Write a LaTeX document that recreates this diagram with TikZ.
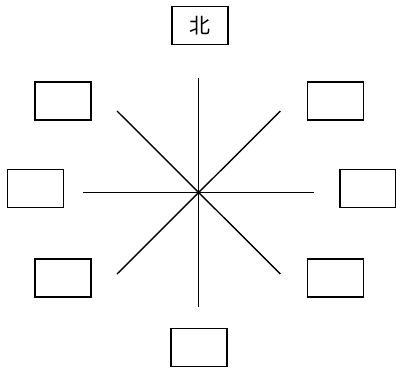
\documentclass[tikz,border=0pt]{standalone}
\usepackage{fontspec}
\newfontfamily\cjk{Noto Sans CJK SC}
\begin{document}
\begin{tikzpicture}[x=1pt,y=-1pt,
  dirbox/.style={draw=black,line width=1.6pt,minimum width=56pt,minimum height=38pt,inner sep=0pt,anchor=center},
  spoke/.style={draw=black,line width=1.4pt}]
\useasboundingbox (0,0) rectangle (396,367);
\coordinate (c) at (198.7,192.5);
\node[dirbox,font=\cjk\fontsize{21}{23}\selectfont] (n) at (200,25.5) {北};
\node[dirbox] (s) at (199,347.5) {};
\node[dirbox] (nw) at (63,101) {};
\node[dirbox] (w) at (35.3,188.5) {};
\node[dirbox] (sw) at (63,277.7) {};
\node[dirbox] (ne) at (335.5,101) {};
\node[dirbox] (e) at (368,188.5) {};
\node[dirbox] (se) at (335.5,277.7) {};
\coordinate (pn) at (198.7,78);
\coordinate (ps) at (198.7,307);
\coordinate (pw) at (83,192.5);
\coordinate (pe) at (314,192.5);
\coordinate (pnw) at (117,111);
\coordinate (pne) at (280.4,111);
\coordinate (psw) at (117,274);
\coordinate (pse) at (280.4,274);
\draw[spoke] (pn) -- (ps);
\draw[spoke] (pw) -- (pe);
\draw[spoke] (pnw) -- (pse);
\draw[spoke] (pne) -- (psw);
\end{tikzpicture}
\end{document}
